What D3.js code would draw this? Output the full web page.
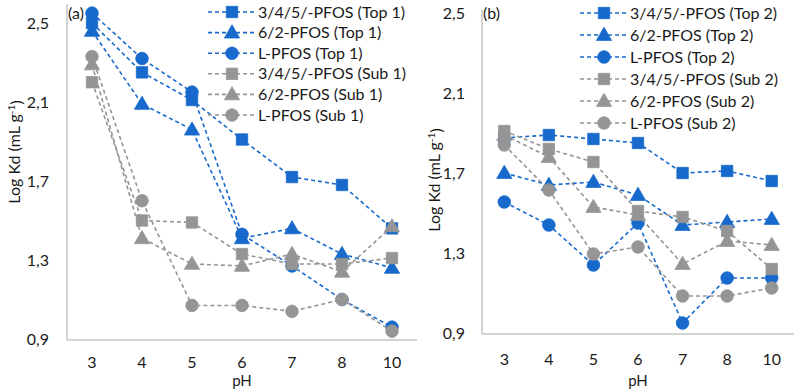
<!DOCTYPE html>
<html>
<head>
<meta charset="utf-8">
<script src="https://cdn.jsdelivr.net/npm/d3@7"></script>
<style>
  body { margin: 0; background: #fff; }
  svg { display: block; font-family: Lato, "Open Sans", sans-serif; }
</style>
</head>
<body>
<svg id="chart" width="796" height="389"></svg>
<script>
const phLabels = ["3", "4", "5", "6", "7", "8", "10"];
const yTicks = [0.9, 1.3, 1.7, 2.1, 2.5];

// panel (a)
const top1Branched = [2.50, 2.25, 2.11, 1.91, 1.72, 1.68, 1.46];
const top1Pfos62 = [2.46, 2.09, 1.96, 1.41, 1.46, 1.33, 1.26];
const top1Linear = [2.55, 2.32, 2.15, 1.43, 1.27, 1.10, 0.96];
const sub1Branched = [2.20, 1.50, 1.49, 1.33, 1.28, 1.28, 1.31];
const sub1Pfos62 = [2.29, 1.41, 1.28, 1.27, 1.33, 1.24, 1.47];
const sub1Linear = [2.33, 1.60, 1.07, 1.07, 1.04, 1.10, 0.94];

// panel (b)
const top2Branched = [1.875, 1.89, 1.87, 1.85, 1.70, 1.71, 1.66];
const top2Pfos62 = [1.70, 1.64, 1.655, 1.59, 1.44, 1.455, 1.47];
const top2Linear = [1.555, 1.44, 1.24, 1.45, 0.95, 1.175, 1.175];
const sub2Branched = [1.91, 1.82, 1.755, 1.51, 1.48, 1.41, 1.22];
const sub2Pfos62 = [1.89, 1.78, 1.53, 1.49, 1.245, 1.36, 1.34];
const sub2Linear = [1.84, 1.615, 1.295, 1.33, 1.085, 1.085, 1.125];

const blue = "#1769cc";
const grey = "#959595";

const panels = [
  {
    tag: "(a)", left: 67, right: 417, top: 4, bottom: 340,
    yMin: 339, yMax: 23, tickX: 49, tickBase: 368, phBase: 386, titleX: 14, titleY: 152,
    legendX: 208, legendY: 12, legendStep: 20.6,
    series: [
      { name: "3/4/5/-PFOS (Top 1)", values: top1Branched, color: blue, shape: "square" },
      { name: "6/2-PFOS (Top 1)", values: top1Pfos62, color: blue, shape: "triangle" },
      { name: "L-PFOS (Top 1)", values: top1Linear, color: blue, shape: "circle" },
      { name: "3/4/5/-PFOS (Sub 1)", values: sub1Branched, color: grey, shape: "square" },
      { name: "6/2-PFOS (Sub 1)", values: sub1Pfos62, color: grey, shape: "triangle" },
      { name: "L-PFOS (Sub 1)", values: sub1Linear, color: grey, shape: "circle" }
    ]
  },
  {
    tag: "(b)", left: 482, right: 794, top: 10, bottom: 334,
    yMin: 333, yMax: 13, tickX: 465, tickBase: 365, phBase: 386, titleX: 434, titleY: 180,
    legendX: 580, legendY: 13, legendStep: 22,
    series: [
      { name: "3/4/5/-PFOS (Top 2)", values: top2Branched, color: blue, shape: "square" },
      { name: "6/2-PFOS (Top 2)", values: top2Pfos62, color: blue, shape: "triangle" },
      { name: "L-PFOS (Top 2)", values: top2Linear, color: blue, shape: "circle" },
      { name: "3/4/5/-PFOS (Sub 2)", values: sub2Branched, color: grey, shape: "square" },
      { name: "6/2-PFOS (Sub 2)", values: sub2Pfos62, color: grey, shape: "triangle" },
      { name: "L-PFOS (Sub 2)", values: sub2Linear, color: grey, shape: "circle" }
    ]
  }
];

const symbolType = { square: d3.symbolSquare, triangle: d3.symbolTriangle, circle: d3.symbolCircle };
const symbolSize = { square: 130, triangle: 100, circle: 125 };

function drawMarker(g, shape, color, x, y) {
  g.append("path")
    .attr("d", d3.symbol(symbolType[shape], symbolSize[shape])())
    .attr("transform", `translate(${x},${y + (shape === "triangle" ? 1 : 0)})`)
    .attr("fill", color)
    .attr("stroke", color)
    .attr("stroke-width", 0.8);
}

const svg = d3.select("#chart");

for (const p of panels) {
  const x = d3.scaleBand().domain(phLabels).range([p.left, p.right]);
  const y = d3.scaleLinear().domain([0.9, 2.5]).range([p.yMin, p.yMax]);
  const g = svg.append("g");

  // axes (no tick marks, grey frame lines)
  g.append("line")
    .attr("x1", p.left).attr("x2", p.left)
    .attr("y1", p.top).attr("y2", p.bottom)
    .attr("stroke", "#c4c4c4").attr("stroke-width", 1.5);
  g.append("line")
    .attr("x1", p.left).attr("x2", p.right)
    .attr("y1", p.bottom).attr("y2", p.bottom)
    .attr("stroke", "#c4c4c4").attr("stroke-width", 1.5);

  g.selectAll(".ytick")
    .data(yTicks)
    .join("text")
    .attr("x", p.tickX)
    .attr("y", (d) => y(d))
    .attr("dy", "0.35em")
    .attr("text-anchor", "end")
    .attr("font-size", "16px")
    .attr("fill", "#1a1a1a")
    .text((d) => d3.format(".1f")(d).replace(".", ","));

  g.selectAll(".xtick")
    .data(phLabels)
    .join("text")
    .attr("x", (d) => x(d) + x.bandwidth() / 2)
    .attr("y", p.tickBase)
    .attr("text-anchor", "middle")
    .attr("font-size", "16px")
    .attr("fill", "#1a1a1a")
    .text((d) => d);

  g.append("text")
    .attr("x", (p.left + p.right) / 2)
    .attr("y", p.phBase)
    .attr("text-anchor", "middle")
    .attr("font-size", "15px")
    .attr("fill", "#1a1a1a")
    .text("pH");

  const title = g.append("text")
    .attr("transform", `translate(${p.titleX},${p.titleY}) rotate(-90)`)
    .attr("dy", "0.35em")
    .attr("text-anchor", "middle")
    .attr("font-size", "16px")
    .attr("fill", "#1a1a1a");
  title.append("tspan").text("Log Kd (mL g");
  title.append("tspan").attr("dy", "-0.45em").attr("font-size", "10px").text("-1");
  title.append("tspan").attr("dy", "0.45em").text(")");

  g.append("text")
    .attr("x", p.left + 1)
    .attr("y", 13)
    .attr("dy", "0.35em")
    .attr("font-size", "16px")
    .attr("fill", "#1a1a1a")
    .text(p.tag);

  const line = d3.line()
    .x((d, i) => x(phLabels[i]) + x.bandwidth() / 2)
    .y((d) => y(d));

  for (const s of p.series) {
    const sg = g.append("g");
    sg.append("path")
      .attr("d", line(s.values))
      .attr("fill", "none")
      .attr("stroke", s.color)
      .attr("stroke-width", 1.6)
      .attr("stroke-dasharray", "4,3");
    s.values.forEach((v, i) => drawMarker(sg, s.shape, s.color, x(phLabels[i]) + x.bandwidth() / 2, y(v)));
  }

  // legend
  p.series.forEach((s, i) => {
    const ly = p.legendY + i * p.legendStep;
    const lg = g.append("g");
    lg.append("line")
      .attr("x1", p.legendX).attr("x2", p.legendX + 47)
      .attr("y1", ly).attr("y2", ly)
      .attr("stroke", s.color).attr("stroke-width", 1.6)
      .attr("stroke-dasharray", "4,3");
    drawMarker(lg, s.shape, s.color, p.legendX + 24, ly);
    lg.append("text")
      .attr("x", p.legendX + 50)
      .attr("y", ly)
      .attr("dy", "0.35em")
      .attr("font-size", "16px")
      .attr("fill", "#1a1a1a")
      .text(s.name);
  });
}
</script>
</body>
</html>
